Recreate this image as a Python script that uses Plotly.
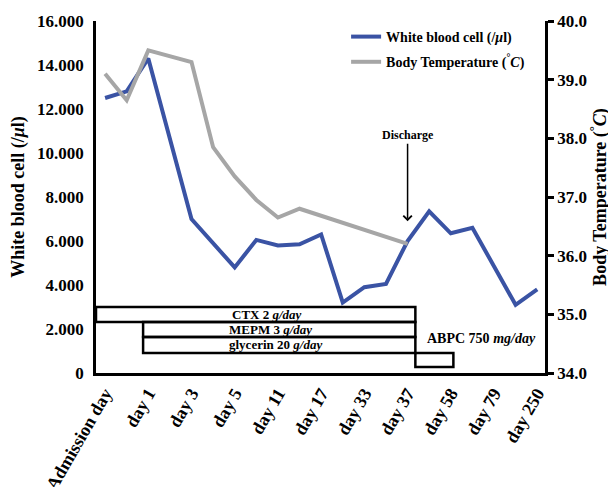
import plotly.graph_objects as go

# ---------------- data ----------------
x_tick_labels = ["Admission day", "day 1", "day 3", "day 5", "day 11", "day 17",
                 "day 33", "day 37", "day 58", "day 79", "day 250"]
x_tick_pos = list(range(len(x_tick_labels)))

wbc_x = [0, 0.5, 1, 2, 3, 3.5, 4, 4.5, 5, 5.5, 6, 6.5, 7, 7.5, 8, 8.5, 9.5, 10]
wbc_values = [12500, 12800, 14300, 7000, 4800, 6050, 5800, 5850, 6300, 3200,
              3900, 4050, 6000, 7350, 6350, 6600, 3100, 3800]

temp_x = [0, 0.5, 1, 2, 2.5, 3, 3.5, 4, 4.5, 7]
temp_values = [39.1, 38.65, 39.5, 39.3, 37.85, 37.35, 36.95, 36.65, 36.8, 36.2]

wbc_tick_vals = [0, 2000, 4000, 6000, 8000, 10000, 12000, 14000, 16000]
wbc_tick_text = ["0", "2.000", "4.000", "6.000", "8.000", "10.000", "12.000", "14.000", "16.000"]
temp_tick_vals = [34, 35, 36, 37, 38, 39, 40]
temp_tick_text = ["34.0", "35.0", "36.0", "37.0", "38.0", "39.0", "40.0"]

treat_names = ["CTX 2 <i>g/day</i>", "MEPM 3 <i>g/day</i>",
               "glycerin 20 <i>g/day</i>", "ABPC 750 <i>mg/day</i>"]
treat_start = [-0.21, 0.88, 0.88, 7.18]
treat_end = [7.18, 7.18, 7.18, 8.06]

discharge_pos = 7

# ---------------- layout helpers ----------------
row_bands = [(2320, 3000), (1640, 2320), (910, 1640), (270, 910)]
label_pos = [(3.75, 2660), (3.82, 1980), (3.94, 1280), (8.7, 1590)]

FONT = "Liberation Serif"
BLUE = "#3A53A4"
GRAY = "#A6A6A6"

fig = go.Figure()
fig.add_trace(go.Scatter(
    x=wbc_x, y=wbc_values, mode="lines", name="White blood cell (/<i>μ</i>l)",
    legendgroup="wbc", line=dict(color=BLUE, width=4), yaxis="y"))
fig.add_trace(go.Scatter(
    x=temp_x, y=temp_values, mode="lines", name="Body Temperature (<sup>°</sup><i>C</i>)",
    legendgroup="temp", line=dict(color=GRAY, width=4), yaxis="y2"))

shapes = []
annotations = []
for i, name in enumerate(treat_names):
    y0, y1 = row_bands[i]
    shapes.append(dict(type="rect", xref="x", yref="y", x0=treat_start[i], x1=treat_end[i],
                       y0=y0, y1=y1, line=dict(color="black", width=2.5)))
    lx, ly = label_pos[i]
    annotations.append(dict(x=lx, y=ly, xref="x", yref="y", text=name, showarrow=False,
                            font=dict(family=FONT, size=13 if i < 3 else 14, color="black",
                                      weight="bold")))

annotations.append(dict(
    x=discharge_pos, y=6900, xref="x", yref="y", text="Discharge", showarrow=True,
    ax=0, ay=-86, arrowhead=4, arrowsize=1.1, arrowwidth=1.5, arrowcolor="black",
    font=dict(family=FONT, size=12, color="black", weight="bold")))

fig.update_layout(
    width=616, height=487,
    margin=dict(l=88, r=79, t=13, b=122, autoexpand=False),
    paper_bgcolor="white", plot_bgcolor="white",
    showlegend=True,
    legend=dict(x=0.557, y=1.0, xanchor="left", yanchor="top",
                bgcolor="rgba(0,0,0,0)", traceorder="grouped", tracegroupgap=4,
                font=dict(family=FONT, size=14, color="black", weight="bold")),
    xaxis=dict(range=[-0.21, 10.18], tickvals=x_tick_pos, ticktext=x_tick_labels,
               tickangle=-60, showgrid=False, zeroline=False, automargin=False,
               showline=True, linecolor="black", linewidth=2.5, ticks="",
               tickfont=dict(family=FONT, size=18, color="black", weight="bold")),
    yaxis=dict(range=[0, 16000], tickvals=wbc_tick_vals, ticktext=wbc_tick_text,
               showgrid=False, zeroline=False, showline=True, linecolor="black",
               linewidth=2.5, ticks="", ticklabelstandoff=6, automargin=False,
               tickfont=dict(family=FONT, size=17, color="black", weight="bold"),
               title=dict(text="White blood cell (/<i>μ</i>l)", standoff=14,
                          font=dict(family=FONT, size=18, color="black", weight="bold"))),
    yaxis2=dict(range=[34, 40], tickvals=temp_tick_vals, ticktext=temp_tick_text,
                overlaying="y", side="right", showgrid=False, zeroline=False,
                showline=True, linecolor="black", linewidth=2.5, automargin=False,
                ticks="outside", ticklen=6, tickwidth=2.5, tickcolor="black",
                tickfont=dict(family=FONT, size=17, color="black", weight="bold"),
                title=dict(text="Body Temperature (<sup>°</sup><i>C</i>)", standoff=8,
                           font=dict(family=FONT, size=18, color="black", weight="bold"))),
    shapes=shapes, annotations=annotations,
)

fig.write_html("out.html")
